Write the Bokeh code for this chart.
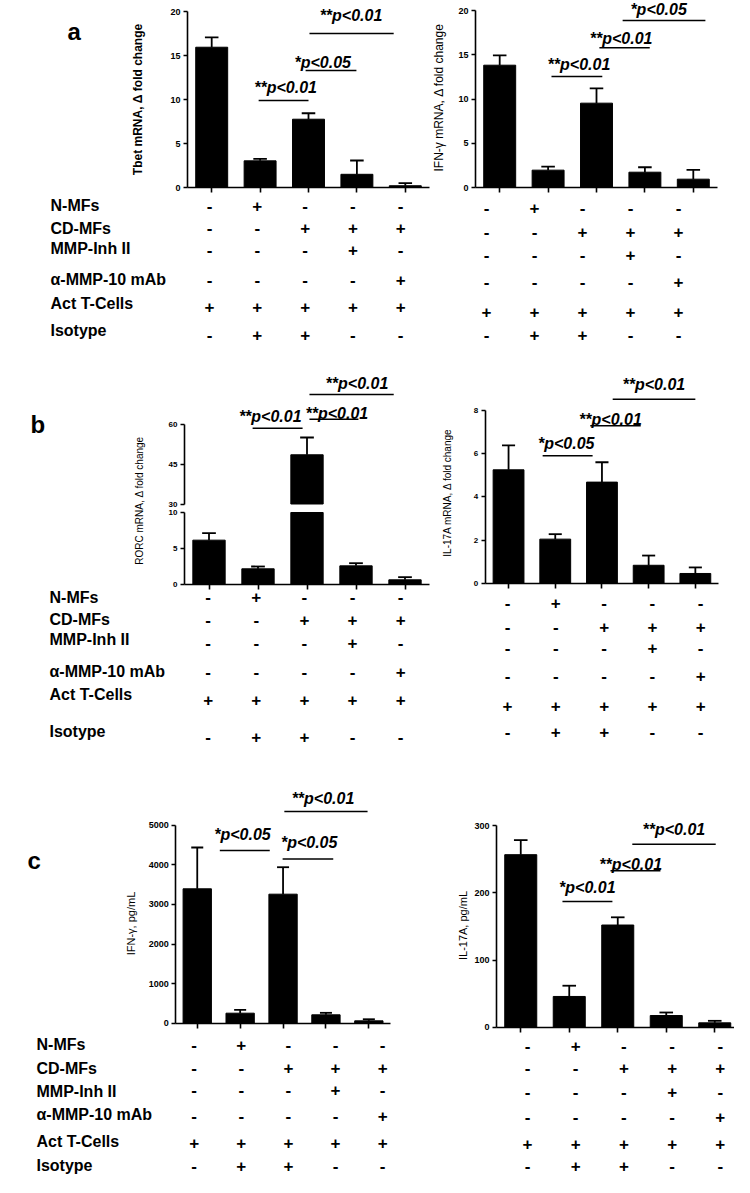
import math
from bokeh.plotting import figure
from bokeh.models import Range1d, FixedTicker, LinearAxis
from bokeh.layouts import column, row
from bokeh.core.properties import value
from bokeh.embed import file_html
from bokeh.resources import INLINE

# ---------------- data ----------------
group_pos = [0, 1, 2, 3, 4]

tbet_mean = [15.94, 3.03, 7.76, 1.50, 0.20]
tbet_sem = [1.11, 0.23, 0.68, 1.57, 0.30]
ifng_mrna_mean = [13.82, 1.96, 9.53, 1.73, 0.94]
ifng_mrna_sem = [1.10, 0.41, 1.66, 0.56, 1.06]
rorc_mean = [6.16, 2.18, 48.5, 2.59, 0.65]
rorc_sem = [0.97, 0.32, 6.5, 0.37, 0.37]
il17_mrna_mean = [5.25, 2.04, 4.68, 0.83, 0.45]
il17_mrna_sem = [1.13, 0.23, 0.92, 0.45, 0.28]
ifng_pg_mean = [3394, 253, 3258, 212, 60]
ifng_pg_sem = [1043, 85, 681, 50, 40]
il17_pg_mean = [257.0, 45.8, 152.2, 17.4, 6.5]
il17_pg_sem = [21.7, 16.0, 11.5, 4.5, 3.0]

ticks_a = [0, 5, 10, 15, 20]
ticks_rorc_low = [0, 5, 10]
ticks_rorc_high = [30, 45, 60]
ticks_il17_mrna = [0, 2, 4, 6, 8]
ticks_ifng_pg = [0, 1000, 2000, 3000, 4000, 5000]
ticks_il17_pg = [0, 100, 200, 300]

row_labels = ["N-MFs", "CD-MFs", "MMP-Inh II", "\u03b1-MMP-10 mAb", "Act T-Cells", "Isotype"]
treatment_signs = [
    ["-", "+", "-", "-", "-"],
    ["-", "-", "+", "+", "+"],
    ["-", "-", "-", "+", "-"],
    ["-", "-", "-", "-", "+"],
    ["+", "+", "+", "+", "+"],
    ["-", "+", "+", "-", "-"],
]

# significance brackets: text, text x/y, line x0/x1/y (chart data units)
sig_a_left = dict(text=["**p<0.01", "*p<0.05", "**p<0.01"], tx=[0.88, 1.71, 2.23], ty=[11.4, 14.2, 19.5],
                  x0=[0.97, 1.94, 2.02], x1=[2.00, 2.99, 3.76], y=[9.89, 13.3, 17.5])
sig_a_right = dict(text=["**p<0.01", "**p<0.01", "*p<0.05"], tx=[0.99, 1.86, 2.70], ty=[13.95, 16.84, 20.1],
                   x0=[1.07, 2.06, 2.54], x1=[2.12, 3.10, 4.25], y=[12.54, 15.8, 18.87])
sig_b_left = dict(text=["**p<0.01", "**p<0.01", "**p<0.01"], tx=[0.61, 1.97, 2.38], ty=[62.9, 64.1, 75.3],
                  x0=[0.89, 2.05, 2.05], x1=[1.91, 3.05, 3.77], y=[58.5, 61.9, 71.2])
sig_b_right = dict(text=["*p<0.05", "**p<0.01", "**p<0.01"], tx=[0.63, 1.51, 2.44], ty=[6.49, 7.60, 9.19],
                   x0=[0.73, 1.75, 2.23], x1=[1.80, 2.83, 4.00], y=[5.90, 7.29, 8.52])
sig_c_left = dict(text=["*p<0.05", "*p<0.05", "**p<0.01"], tx=[0.395, 1.95, 2.20], ty=[4758, 4551, 5662],
                  x0=[0.526, 1.99, 2.03], x1=[1.69, 3.17, 3.97], y=[4361, 4146, 5346])
sig_c_right = dict(text=["*p<0.01", "**p<0.01", "**p<0.01"], tx=[0.79, 1.62, 2.51], ty=[207.4, 243.1, 294.1],
                   x0=[0.86, 1.85, 2.30], x1=[1.89, 2.88, 4.02], y=[187.2, 233.0, 272.6])

# ---------------- styling / layout ----------------
FONT = "Liberation Sans"
BAR_W = 0.66
CAP = 0.14


def make_fig(L, R, T, B, x0, ppx, y0, ppy):
    xr = Range1d(-0.5 + (L - x0) / ppx, -0.5 + (R - x0) / ppx)
    yr = Range1d((y0 - B) / ppy, (y0 - T) / ppy)
    p = figure(width=R - L, height=B - T, x_range=xr, y_range=yr,
               output_backend="svg", toolbar_location=None, min_border=0)
    p.min_border_left = p.min_border_right = p.min_border_top = p.min_border_bottom = 0
    p.extra_x_ranges = {"px": Range1d(L, R)}
    p.extra_y_ranges = {"px": Range1d(B, T)}
    p.xgrid.visible = False
    p.ygrid.visible = False
    p.outline_line_color = None
    p.background_fill_color = "white"
    p.border_fill_color = "white"
    return p


def style_y(ax, ticks, size):
    ax.fixed_location = -0.5
    ax.ticker = FixedTicker(ticks=ticks)
    ax.bounds = (ticks[0], ticks[-1])
    ax.axis_line_width = 1.6
    ax.axis_line_color = "black"
    ax.major_tick_line_width = 1.6
    ax.major_tick_line_color = "black"
    ax.major_tick_out = 4
    ax.major_tick_in = 0
    ax.minor_tick_line_color = None
    ax.major_label_text_font = FONT
    ax.major_label_text_font_style = "bold"
    ax.major_label_text_font_size = size
    ax.major_label_text_color = "black"
    ax.major_label_standoff = 3


def style_x(ax):
    ax.fixed_location = 0
    ax.ticker = FixedTicker(ticks=group_pos)
    ax.bounds = (-0.5, 4.5)
    ax.axis_line_width = 1.6
    ax.axis_line_color = "black"
    ax.major_tick_line_width = 1.6
    ax.major_tick_line_color = "black"
    ax.major_tick_out = 5
    ax.major_tick_in = 0
    ax.minor_tick_line_color = None
    ax.major_label_text_color = None
    ax.major_label_standoff = 0


def draw_bars(p, mean, sem, rname="default", top_clip=None, bottom=0):
    idx = [i for i in range(len(mean)) if mean[i] > bottom]
    xs = [group_pos[i] for i in idx]
    tops = [min(mean[i], top_clip) if top_clip is not None else mean[i] for i in idx]
    p.vbar(x=xs, width=BAR_W, bottom=bottom, top=tops, fill_color="black",
           line_color="black", y_range_name=rname)
    eidx = [i for i in idx if top_clip is None or mean[i] + sem[i] <= top_clip]
    ex = [group_pos[i] for i in eidx]
    lo = [mean[i] for i in eidx]
    hi = [mean[i] + sem[i] for i in eidx]
    p.segment(x0=ex, y0=lo, x1=ex, y1=hi, line_width=1.8, line_color="black", y_range_name=rname)
    p.segment(x0=[x - CAP for x in ex], y0=hi, x1=[x + CAP for x in ex], y1=hi,
              line_width=1.8, line_color="black", y_range_name=rname)


def draw_sig(p, s, rname="default"):
    p.segment(x0=s["x0"], y0=s["y"], x1=s["x1"], y1=s["y"], line_width=1.5,
              line_color="black", y_range_name=rname)
    p.text(x=s["tx"], y=s["ty"], text=s["text"], text_font=value(FONT),
           text_font_style="bold italic", text_font_size="16px", text_align="left",
           text_baseline="middle", text_color="black", y_range_name=rname)


def draw_table(p, col_first, col_step, row_ys, label_x=None, label_ys=None):
    xs, ys, ts = [], [], []
    for r, signs in enumerate(treatment_signs):
        for c, s in enumerate(signs):
            xs.append(col_first + c * col_step)
            ys.append(row_ys[r])
            ts.append(s)
    p.text(x=xs, y=ys, text=ts, text_font=value(FONT), text_font_style="bold",
           text_font_size="17px", text_align="center", text_baseline="middle",
           text_color="black", x_range_name="px", y_range_name="px")
    if label_x is not None:
        p.text(x=[label_x] * len(row_labels), y=label_ys, text=row_labels,
               text_font=value(FONT), text_font_style="bold", text_font_size="16px",
               text_align="left", text_baseline="middle", text_color="black",
               x_range_name="px", y_range_name="px")


def y_label(p, x, y, text, size, style="normal"):
    p.text(x=[x], y=[y], text=[text], angle=math.pi / 2, text_font=value(FONT),
           text_font_style=style, text_font_size=size, text_align="center",
           text_baseline="middle", text_color="black", x_range_name="px", y_range_name="px")


def letter(p, x, y, t):
    p.text(x=[x], y=[y], text=[t], text_font=value(FONT), text_font_style="bold",
           text_font_size="24px", text_align="left", text_baseline="alphabetic",
           text_color="black", x_range_name="px", y_range_name="px")


SPLIT = 440
LEFT, RIGHT = 8, 742

# ---- panel a ----
aT, aB = 4, 350
aL = make_fig(LEFT, SPLIT, aT, aB, 195, 48.4, 191, 8.8)
style_y(aL.yaxis[0], ticks_a, "9px")
style_x(aL.xaxis[0])
draw_bars(aL, tbet_mean, tbet_sem)
draw_sig(aL, sig_a_left)
y_label(aL, 145, 103, "Tbet mRNA, \u0394 fold change", "12px", "bold")
letter(aL, 75, 35, "a")
draw_table(aL, 217, 47.8, [209, 231.7, 253, 283, 310, 338], 58, [209.3, 231.7, 251.7, 283.3, 307.3, 334])

aR = make_fig(SPLIT, RIGHT, aT, aB, 483, 48.4, 191, 8.85)
style_y(aR.yaxis[0], ticks_a, "9px")
style_x(aR.xaxis[0])
draw_bars(aR, ifng_mrna_mean, ifng_mrna_sem)
draw_sig(aR, sig_a_right)
y_label(aR, 446, 101, "IFN-\u03b3 mRNA, \u0394 fold change", "12px")
draw_table(aR, 494, 48.0, [211.7, 235, 258.3, 285.7, 315, 338])

# ---- panel b ----
bT, bB = 350, 765
bL = make_fig(LEFT, SPLIT, bT, bB, 192, 49.0, 588, 7.2)
up_y0, up_ppy = 507.5 + 30 * 2.66, 2.66
bL.extra_y_ranges["upper"] = Range1d((up_y0 - bB) / up_ppy, (up_y0 - bT) / up_ppy)
style_y(bL.yaxis[0], ticks_rorc_low, "8px")
upper_axis = LinearAxis(y_range_name="upper")
style_y(upper_axis, ticks_rorc_high, "8px")
bL.add_layout(upper_axis, "left")
style_x(bL.xaxis[0])
draw_bars(bL, rorc_mean, rorc_sem, top_clip=ticks_rorc_low[-1])
draw_bars(bL, rorc_mean, rorc_sem, rname="upper", bottom=ticks_rorc_high[0])
draw_sig(bL, sig_b_left, rname="upper")
y_label(bL, 146.5, 504, "RORC mRNA, \u0394 fold change", "10px")
letter(bL, 38, 428, "b")
draw_table(bL, 215.7, 48.1, [600, 623.3, 646, 675, 703.3, 740], 57, [600.7, 623.3, 642.7, 675, 698.3, 735])

bR = make_fig(SPLIT, RIGHT, bT, bB, 492.7, 46.7, 586.7, 21.6)
style_y(bR.yaxis[0], ticks_il17_mrna, "8px")
style_x(bR.xaxis[0])
draw_bars(bR, il17_mrna_mean, il17_mrna_sem)
draw_sig(bR, sig_b_right)
y_label(bR, 455, 496, "IL-17A mRNA, \u0394 fold change", "10px")
draw_table(bR, 515, 48.3, [606.7, 630, 651.7, 679.3, 709.3, 735])

# ---- panel c ----
cT, cB = 765, 1180
cL = make_fig(LEFT, SPLIT, cT, cB, 183.3, 42.9, 1026.7, 0.0396)
style_y(cL.yaxis[0], ticks_ifng_pg, "9px")
style_x(cL.xaxis[0])
draw_bars(cL, ifng_pg_mean, ifng_pg_sem)
draw_sig(cL, sig_c_left)
y_label(cL, 138, 927, "IFN-\u03b3, pg/mL", "11px")
letter(cL, 35, 864, "c")
draw_table(cL, 201.7, 47.1, [1048.3, 1071.7, 1093.3, 1119.3, 1146.5, 1169], 44,
           [1048.3, 1071.7, 1095, 1118.3, 1145, 1168.5])

cR = make_fig(SPLIT, RIGHT, cT, cB, 504, 48.5, 1030.7, 0.6713)
style_y(cR.yaxis[0], ticks_il17_pg, "9px")
style_x(cR.xaxis[0])
draw_bars(cR, il17_pg_mean, il17_pg_sem)
draw_sig(cR, sig_c_right)
y_label(cR, 470, 929, "IL-17A, pg/mL", "11px")
draw_table(cR, 535, 48.2, [1049.3, 1071.7, 1095, 1120.7, 1147.5, 1169])

layout = column(row(aL, aR), row(bL, bR), row(cL, cR))
open("out.html", "w").write(file_html(layout, INLINE))
